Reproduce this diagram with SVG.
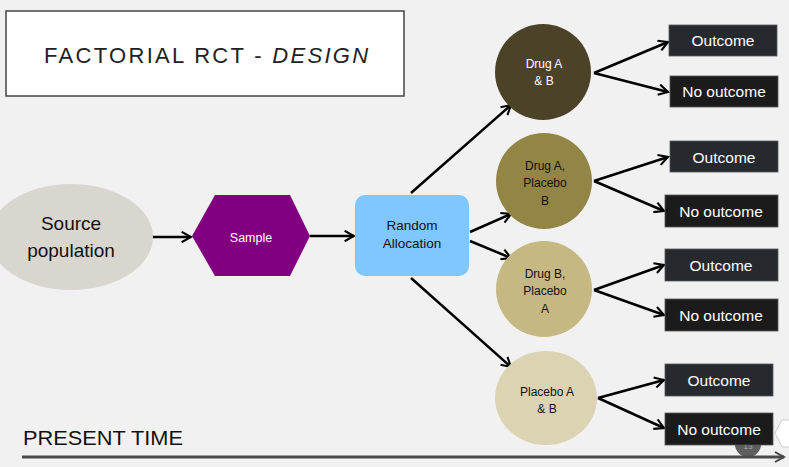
<svg xmlns="http://www.w3.org/2000/svg" width="789" height="467" viewBox="0 0 789 467">
<defs>
<style>
.t{font-family:"Liberation Sans",Arial,sans-serif;}
.conn line{stroke:#000;stroke-width:2.5;fill:none;marker-end:url(#ah);}
.ob{fill:#262a2e;stroke:#55585c;stroke-width:0.8;}
.nb{fill:#1b1b1b;stroke:#55585c;stroke-width:0.8;}
.bt{font-family:"Liberation Sans",Arial,sans-serif;font-size:15.5px;fill:#fff;text-anchor:middle;}
.ct{font-family:"Liberation Sans",Arial,sans-serif;font-size:12px;text-anchor:middle;}
</style>
<marker id="ah" viewBox="0 0 12 12" refX="10" refY="6" markerWidth="5" markerHeight="5" markerUnits="strokeWidth" orient="auto">
<path d="M1,1 L10,6 L1,11" fill="none" stroke="#000" stroke-width="2"/>
</marker>
<marker id="ah2" viewBox="0 0 12 12" refX="10" refY="6" markerWidth="4" markerHeight="4" markerUnits="strokeWidth" orient="auto">
<path d="M1,1 L10,6 L1,11" fill="none" stroke="#444" stroke-width="2"/>
</marker>
</defs>
<rect width="789" height="467" fill="#f1f1f1"/>

<g id="title">
<rect x="6" y="11" width="398" height="85" fill="#fff" stroke="#444" stroke-width="1.5"/>
<text class="t" x="44" y="63" font-size="22" fill="#222" letter-spacing="2.3">FACTORIAL RCT - <tspan font-style="italic">DESIGN</tspan></text>
</g>

<g id="page-number">
<circle cx="748" cy="444" r="13" fill="#5e5e5e"/>
<text class="t" x="748" y="449" font-size="8" fill="#aaa" text-anchor="middle">13</text>
</g>
<g id="edge-shape">
<path d="M789,420 L782,420 L775,433 L782,447 L789,447" fill="#fff" stroke="#ccc" stroke-width="1"/>
</g>

<g id="time-axis">
<line x1="22" y1="457" x2="784" y2="457" stroke="#4a4a4a" stroke-width="3" marker-end="url(#ah2)"/>
<text class="t" x="23" y="445" font-size="20" fill="#111" textLength="160" lengthAdjust="spacingAndGlyphs">PRESENT TIME</text>
</g>

<g id="connectors" class="conn">
<line x1="152" y1="237" x2="191" y2="237"/>
<line x1="310" y1="236" x2="354" y2="236"/>
<line x1="411" y1="193" x2="511" y2="105"/>
<line x1="470" y1="232" x2="511" y2="214"/>
<line x1="470" y1="241" x2="511" y2="258"/>
<line x1="411" y1="278" x2="511" y2="367"/>
<line x1="594" y1="73" x2="668" y2="42"/>
<line x1="594" y1="73" x2="668" y2="92"/>
<line x1="594" y1="181" x2="668" y2="157"/>
<line x1="594" y1="181" x2="664" y2="211"/>
<line x1="594" y1="290" x2="664" y2="265"/>
<line x1="594" y1="290" x2="664" y2="315"/>
<line x1="598" y1="398" x2="664" y2="380"/>
<line x1="598" y1="398" x2="664" y2="428"/>
</g>

<g id="source-population">
<ellipse cx="71" cy="237" rx="82" ry="53" fill="#d9d6d0"/>
<text class="t" x="71" y="230" font-size="19" fill="#111" text-anchor="middle">Source</text>
<text class="t" x="71" y="257" font-size="19" fill="#111" text-anchor="middle">population</text>
</g>

<g id="sample">
<polygon points="192,236 215,195 290,195 310,236 290,276 215,276" fill="#800080"/>
<text class="t" x="251" y="242" font-size="12.5" fill="#fff" text-anchor="middle">Sample</text>
</g>

<g id="random-allocation">
<rect x="355" y="195" width="114" height="81" rx="10" fill="#80c7ff"/>
<text class="t" x="412" y="230" font-size="13.5" fill="#111" text-anchor="middle">Random</text>
<text class="t" x="412" y="248" font-size="13.5" fill="#111" text-anchor="middle">Allocation</text>
</g>

<g id="drug-ab">
<circle cx="543" cy="72" r="48" fill="#4b4228"/>
<text class="ct" x="544" y="68" fill="#fff">Drug A</text>
<text class="ct" x="544" y="85" fill="#fff">&amp; B</text>
</g>

<g id="drug-a-placebo-b">
<circle cx="544" cy="181" r="48" fill="#928545"/>
<text class="ct" x="545" y="170" fill="#111">Drug A,</text>
<text class="ct" x="545" y="187" fill="#111">Placebo</text>
<text class="ct" x="545" y="205" fill="#111" font-size="15">B</text>
</g>

<g id="drug-b-placebo-a">
<circle cx="544" cy="289" r="48" fill="#c5b882"/>
<text class="ct" x="545" y="278" fill="#111">Drug B,</text>
<text class="ct" x="545" y="295" fill="#111">Placebo</text>
<text class="ct" x="545" y="313" fill="#111" font-size="15">A</text>
</g>

<g id="placebo-ab">
<ellipse cx="546" cy="398" rx="51" ry="47" fill="#dbd3b2"/>
<text class="ct" x="547" y="396" fill="#111">Placebo A</text>
<text class="ct" x="547" y="413" fill="#111">&amp; B</text>
</g>

<g id="outcome-1"><rect class="ob" x="669" y="25" width="108" height="31"/><text class="bt" x="723" y="46">Outcome</text></g>
<g id="no-outcome-1"><rect class="nb" x="670" y="76" width="108" height="31"/><text class="bt" x="724" y="97">No outcome</text></g>
<g id="outcome-2"><rect class="ob" x="670" y="141" width="108" height="31"/><text class="bt" x="724" y="163">Outcome</text></g>
<g id="no-outcome-2"><rect class="nb" x="665" y="195" width="113" height="32"/><text class="bt" x="721" y="217">No outcome</text></g>
<g id="outcome-3"><rect class="ob" x="665" y="249" width="113" height="32"/><text class="bt" x="721" y="271">Outcome</text></g>
<g id="no-outcome-3"><rect class="nb" x="665" y="299" width="113" height="32"/><text class="bt" x="721" y="321">No outcome</text></g>
<g id="outcome-4"><rect class="ob" x="665" y="364" width="108" height="32"/><text class="bt" x="719" y="386">Outcome</text></g>
<g id="no-outcome-4"><rect class="nb" x="665" y="413" width="108" height="32"/><text class="bt" x="719" y="435">No outcome</text></g>
</svg>
